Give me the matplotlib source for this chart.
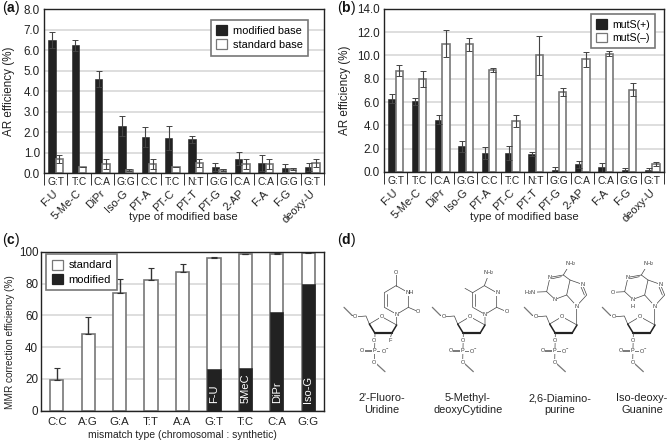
import matplotlib
matplotlib.use('Agg')
import matplotlib.pyplot as plt
from matplotlib.transforms import ScaledTranslation
import numpy as np

plt.rcParams['font.family'] = ['Liberation Sans', 'DejaVu Sans']
plt.rcParams['mathtext.fontset'] = 'custom'
plt.rcParams['mathtext.rm'] = 'Liberation Sans'
plt.rcParams['mathtext.bf'] = 'Liberation Sans:bold'

W = 667
H = 441
DARK = '#222222'
EDGE = '#777777'
GRID = '#d4d4d4'

bases = ['F-U', '5-Me-C', 'DiPr', 'Iso-G', 'PT-A', 'PT-C', 'PT-T', 'PT-G', '2-AP', 'F-A', 'F-G', 'deoxy-U']
mismatch_ab = ['G:T', 'T:C', 'C:A', 'G:G', 'C:C', 'T:C', 'N:T', 'G:G', 'C:A', 'C:A', 'G:G', 'G:T']

a_modified = [6.5, 6.25, 4.6, 2.3, 1.75, 1.7, 1.65, 0.3, 0.7, 0.5, 0.25, 0.3]
a_modified_err = [0.4, 0.27, 0.4, 0.47, 0.5, 0.6, 0.17, 0.2, 0.33, 0.4, 0.2, 0.2]
a_standard = [0.7, 0.3, 0.45, 0.15, 0.45, 0.3, 0.5, 0.15, 0.45, 0.45, 0.2, 0.5]
a_standard_err = [0.2, 0, 0.25, 0.05, 0.25, 0, 0.2, 0.05, 0.25, 0.25, 0.05, 0.2]

b_plus = [6.3, 6.05, 4.5, 2.2, 1.65, 1.6, 1.55, 0.2, 0.65, 0.4, 0.15, 0.2]
b_plus_err = [0.4, 0.27, 0.4, 0.45, 0.5, 0.6, 0.2, 0.2, 0.3, 0.4, 0.2, 0.15]
b_minus = [8.7, 8.0, 11.0, 10.95, 8.75, 4.35, 10.0, 6.85, 9.65, 10.15, 7.05, 0.65]
b_minus_err = [0.45, 0.7, 1.15, 0.55, 0.2, 0.5, 1.65, 0.33, 0.65, 0.2, 0.55, 0.17]

c_labels = ['C:C', 'A:G', 'G:A', 'T:T', 'A:A', 'G:T', 'T:C', 'C:A', 'G:G']
c_standard = [19.5, 48, 74, 82.5, 87.5, 96.5, 98.5, 99, 99.5]
c_err = [7, 11, 9, 7.5, 5, 0.3, 0.3, 0.3, 0.3]
c_modified = [0, 0, 0, 0, 0, 26, 26.5, 62, 79.5]
c_inner = ['', '', '', '', '', 'F-U', '5MeC', 'DiPr', 'Iso-G']

names_d = ["2'-Fluoro-\nUridine", '5-Methyl-\ndeoxyCytidine', '2,6-Diamino-\npurine', 'Iso-deoxy-\nGuanine']

fig = plt.figure(figsize=(W / 100, H / 100), dpi=100)


def make_axes(left, top, right, bottom):
    ax = fig.add_axes([left / W, 1 - bottom / H, (right - left) / W, (bottom - top) / H])
    for s in ax.spines.values():
        s.set_linewidth(1.0)
        s.set_color('#222222')
    ax.set_axisbelow(True)
    ax.yaxis.grid(True, color=GRID, lw=1.1)
    ax.tick_params(axis='y', labelsize=8.4, length=0, pad=3, colors='#222222')
    return ax


def paired_panel(ax, first, first_err, second, second_err, ymax, step, label_x):
    x = np.arange(12)
    ekw = dict(ecolor='#444444', elinewidth=0.8, capsize=2, capthick=0.7)
    ax.bar(x - 0.16, first, 0.32, color=DARK, edgecolor=DARK, lw=0.4, yerr=first_err, error_kw=ekw)
    ax.bar(x + 0.16, second, 0.32, color='white', edgecolor=EDGE, lw=1.2, yerr=second_err, error_kw=ekw)
    ax.set_xlim(-0.5, 11.5)
    ax.set_ylim(0, ymax)
    ax.set_yticks(np.arange(0, ymax + 0.1, step))
    ax.set_yticklabels(['%.1f' % t for t in np.arange(0, ymax + 0.1, step)])
    ax.set_ylabel('AR efficiency (%)', fontsize=8.4, color='#222222')
    ax.yaxis.set_label_coords(label_x, 0.5)
    ax.set_xticks(x)
    ax.set_xticklabels(bases, rotation=45, ha='right', rotation_mode='anchor', fontsize=8, color='#222222')
    ax.tick_params(axis='x', length=0, pad=11)
    shift = ScaledTranslation(-2 / 72, 0, fig.dpi_scale_trans)
    for lab in ax.get_xticklabels():
        lab.set_transform(lab.get_transform() + shift)
    ax.vlines(np.arange(-0.5, 12), -0.075, 0, transform=ax.get_xaxis_transform(), colors='#333333', lw=0.7, clip_on=False)
    for i, m in enumerate(mismatch_ab):
        ax.annotate(m, (i, 0), xycoords=ax.get_xaxis_transform(), xytext=(0, -6.3), textcoords='offset points',
                    ha='center', va='center', fontsize=7.4, color='#222222')


def box_legend(ax, anchor, labels, colors, size):
    handles = [plt.Rectangle((0, 0), 1, 1, facecolor=c, edgecolor=EDGE if c == 'white' else DARK, lw=0.9) for c in colors]
    leg = ax.legend(handles, labels, loc='upper left', bbox_to_anchor=anchor, borderaxespad=0, fontsize=size,
                    handlelength=1, handleheight=1, handletextpad=0.5, labelspacing=0.3, borderpad=0.5,
                    fancybox=False, framealpha=1)
    leg.get_frame().set_edgecolor('#777777')
    leg.get_frame().set_linewidth(1.2)


# panel a
ax_a = make_axes(44, 9.3, 324, 173)
paired_panel(ax_a, a_modified, a_modified_err, a_standard, a_standard_err, 8, 1, -0.104)
box_legend(ax_a, (0.596, 0.935), ['modified base', 'standard base'], [DARK, 'white'], 7.9)

# panel b
ax_b = make_axes(384, 8.7, 664, 172)
paired_panel(ax_b, b_plus, b_plus_err, b_minus, b_minus_err, 14, 2, -0.118)
box_legend(ax_b, (0.74, 0.967), ['mutS(+)', 'mutS(\u2013)'], [DARK, 'white'], 7.6)

# panel c
ax_c = make_axes(41, 252, 324, 410.5)
xc = np.arange(9)
ax_c.bar(xc, c_standard, 0.42, color='white', edgecolor=EDGE, lw=1.2, yerr=[np.zeros(9), c_err],
         error_kw=dict(ecolor='#333333', elinewidth=1.0, capsize=2, capthick=0.8))
ax_c.bar(xc, c_modified, 0.42, color=DARK, edgecolor=DARK, lw=0.4)
for i, t in enumerate(c_inner):
    if t:
        ax_c.text(i, 5, t, rotation=90, color='white', ha='center', va='bottom', fontsize=8)
ax_c.set_xlim(-0.5, 8.5)
ax_c.set_ylim(0, 100)
ax_c.set_yticks(range(0, 101, 20))
ax_c.tick_params(axis='y', pad=2)
ax_c.set_xticks(xc)
ax_c.set_xticklabels(c_labels, fontsize=8.2, color='#222222')
ax_c.tick_params(axis='x', length=0, pad=5)
ax_c.set_ylabel('MMR correction efficiency (%)', fontsize=7.2, color='#222222')
ax_c.yaxis.set_label_coords(-0.092, 0.43)
ax_c.set_xlabel('mismatch type (chromosomal : synthetic)', fontsize=7.5, color='#222222', labelpad=2)
box_legend(ax_c, (0.018, 0.987), ['standard', 'modified'], ['white', DARK], 8)

# whole figure overlay in pixel units, for captions and panel d
ov = fig.add_axes([0, 0, 1, 1], zorder=5)
ov.set_xlim(0, W)
ov.set_ylim(H, 0)
ov.axis('off')
ov.patch.set_alpha(0)

ov.text(183, 217, 'type of modified base', ha='center', va='center', fontsize=8.2, color='#222222')
ov.text(524, 217, 'type of modified base', ha='center', va='center', fontsize=8.2, color='#222222')

for lab, px, py in [('a', 2, 8), ('b', 337, 8), ('c', 2, 240), ('d', 337, 240)]:
    ov.text(px, py, '($\\mathbf{%s}$)' % lab, fontsize=10, ha='left', va='center', color='#111111')


def seg(pts, dx, lw=0.5, color='#444444'):
    # coordinates of the 3x reference crop of panel d, turned into pixels
    xs = [330 + (p[0] + dx) / 3 for p in pts]
    ys = [220 + p[1] / 3 for p in pts]
    ov.plot(xs, ys, color=color, lw=lw, solid_capstyle='round')


def atom(x, y, s, dx, size=4):
    ov.text(330 + (x + dx) / 3, 220 + y / 3, s, fontsize=size, ha='center', va='center', color='#333333',
            bbox=dict(facecolor='white', edgecolor='none', pad=0.3))


def wavy(x0, y0, x1, y1, dx):
    seg([(x0, y0), (x1, y1)], dx, lw=0.9, color='#777777')


def sugar(dx, fluoro=False):
    wavy(42, 262, 66, 286, dx)
    seg([(66, 286), (84, 290), (108, 288), (118, 312), (155, 290), (200, 315)], dx)
    seg([(118, 312), (135, 340)], dx, lw=1.1, color='#222222')
    seg([(135, 340), (185, 340)], dx, lw=1.6, color='#222222')
    seg([(185, 340), (200, 315)], dx, lw=1.1, color='#222222')
    seg([(135, 340), (133, 427)], dx)
    seg([(97, 390), (133, 390)], dx)
    seg([(97, 394), (133, 394)], dx)
    seg([(133, 392), (165, 392)], dx)
    atom(76, 290, 'O', dx)
    atom(155, 290, 'O', dx)
    atom(133, 360, 'O', dx)
    atom(133, 392, 'P', dx)
    atom(97, 392, 'O', dx)
    atom(165, 392, 'O$^{-}$', dx)
    atom(133, 427, 'O', dx)
    wavy(140, 432, 165, 455, dx)
    if fluoro:
        seg([(185, 340), (180, 358)], dx)
        atom(180, 360, 'F', dx)


def pyrimidine(dx, n3_label, top_label, methyl=False):
    seg([(200, 315), (200, 283), (235, 262), (235, 218), (198, 197), (163, 218), (163, 262), (200, 283)], dx)
    seg([(170, 222), (170, 258)], dx)
    seg([(235, 262), (265, 275)], dx)
    seg([top_label[1:], (198, 197)], dx)
    if methyl:
        seg([(163, 218), (140, 205)], dx)
    atom(200, 283, 'N', dx)
    atom(265, 275, 'O', dx)
    atom(238, 218, n3_label, dx)
    atom(top_label[1], top_label[2], top_label[0], dx)


def purine(dx, left_label, left_x, oxo=False):
    seg([(199, 315), (199, 258), (229, 225), (216, 193), (179, 180), (169, 225), (199, 258)], dx)
    seg([(179, 180), (159, 165), (119, 172), (109, 215), (134, 238), (169, 225)], dx)
    seg([(159, 165), (179, 132)], dx)
    seg([(109, 215), (left_x, 217)], dx)
    seg([(222, 225), (211, 198)], dx)
    seg([(153, 170), (126, 176)], dx)
    atom(199, 258, 'N', dx)
    atom(216, 193, 'N', dx)
    atom(119, 172, 'N', dx)
    atom(134, 238, 'N', dx)
    atom(181, 132, 'NH$_2$', dx)
    atom(left_x, 217, left_label, dx)
    if oxo:
        atom(134, 258, 'H', dx)


sugar(0, fluoro=True)
pyrimidine(0, 'NH', ('O', 198, 157))
sugar(265)
pyrimidine(265, 'N', ('NH$_2$', 213, 158), methyl=True)
sugar(541)
purine(541, 'H$_2$N', 60)
sugar(775)
purine(775, 'O', 75, oxo=True)

name_x = [382, 468, 560, 642]
for x, nm in zip(name_x, names_d):
    ov.text(x, 404, nm, ha='center', va='center', fontsize=7.9, linespacing=1.2, color='#222222')

fig.savefig('out.png', dpi=100)
